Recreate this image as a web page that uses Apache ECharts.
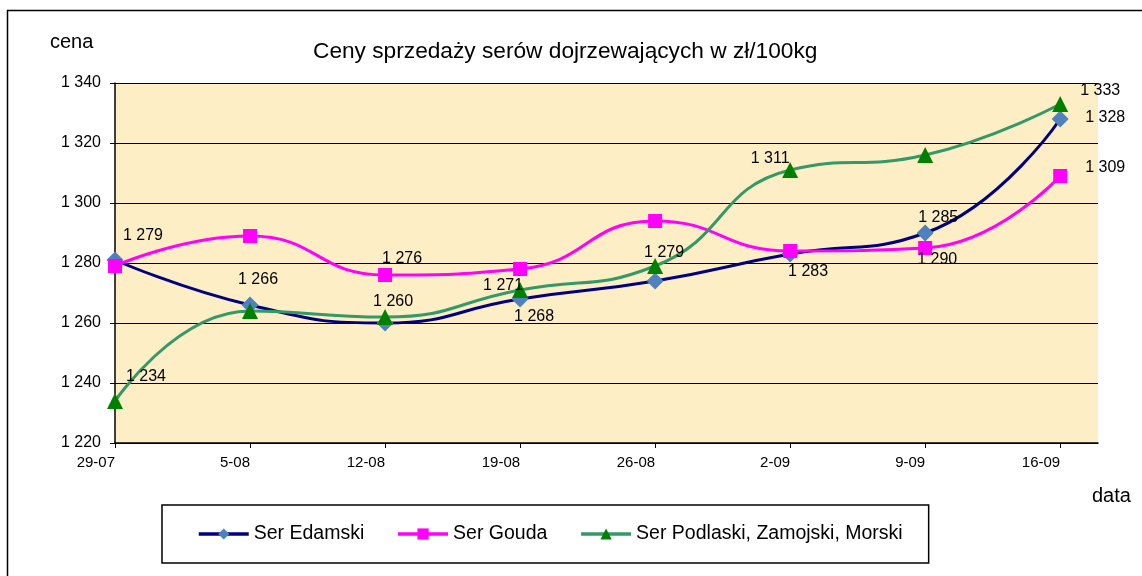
<!DOCTYPE html>
<html>
<head>
<meta charset="utf-8">
<title>Ceny sprzedaży serów dojrzewających</title>
<script src="https://cdn.jsdelivr.net/npm/echarts@6/dist/echarts.min.js"></script>
<style>
  html, body { margin: 0; padding: 0; background: #fff; }
  #chart { width: 1142px; height: 576px; }
</style>
</head>
<body>
<div id="chart"></div>
<script>
// daty notowań (tygodniowo)
var dates = ['29-07', '5-08', '12-08', '19-08', '26-08', '2-09', '9-09', '16-09'];

// ceny w zł/100kg
var edamski  = [1281, 1266, 1260, 1268, 1274, 1283, 1290, 1328];
var gouda    = [1279, 1289, 1276, 1278, 1294, 1284, 1285, 1309];
var podlaski = [1234, 1264, 1262, 1271, 1279, 1311, 1316, 1333];

// opisy danych tak jak na wykresie ('' = brak opisu)
var edamskiLabels  = ['', '1 266', '1 260', '1 268', '', '1 283', '1 285', '1 328'];
var goudaLabels    = ['1 279', '', '1 276', '', '', '', '1 290', '1 309'];
var podlaskiLabels = ['1 234', '', '', '1 271', '1 279', '1 311', '', '1 333'];

var seriesNames = ['Ser Edamski', 'Ser Gouda', 'Ser Podlaski, Zamojski, Morski'];

// przesunięcia opisów względem punktu (px)
var edamskiOffsets  = [null, [8, -25], [8, -21], [14, 18], null, [18, 18], [13, -15], [45, -1]];
var goudaOffsets    = [[28, -30], null, [17, -16], null, null, null, [12, 12], [45, -8]];
var podlaskiOffsets = [[31, -24], null, null, [-17, -4], [9, -13], [-20, -11], null, [40, -13]];

var FONT = '"Liberation Sans", Arial, sans-serif';

function fmt(v) {
  return String(v).replace(/\B(?=(\d{3})+(?!\d))/g, ' ');
}

function buildData(values, texts, offsets) {
  return values.map(function (v, i) {
    var item = { value: [i, v] };
    if (texts[i]) {
      item.label = { show: true, formatter: texts[i], offset: offsets[i] };
    }
    return item;
  });
}

var tickIdx = dates.map(function (d, i) { return i; });

var myChart = echarts.init(document.getElementById('chart'));

var option = {
  animation: false,
  backgroundColor: '#fff',
  title: {
    text: 'Ceny sprzedaży serów dojrzewających w zł/100kg',
    left: 313,
    top: 40,
    padding: 0,
    textStyle: { fontFamily: FONT, fontSize: 22.7, fontWeight: 'normal', color: '#000' }
  },
  graphic: [
    { type: 'rect', shape: { x: 7.5, y: 10.5, width: 1300, height: 700 },
      style: { fill: 'none', stroke: '#000', lineWidth: 1.5 }, silent: true },
    { type: 'text', left: 50, top: 32,
      style: { text: 'cena', font: '20px ' + FONT, fill: '#000' } },
    { type: 'text', left: 1092, top: 486,
      style: { text: 'data', font: '20px ' + FONT, fill: '#000' } }
  ],
  legend: {
    data: seriesNames,
    left: 162,
    top: 505,
    padding: [19, 26, 19, 35],
    itemGap: 32,
    itemWidth: 50,
    itemHeight: 14,
    borderColor: '#000',
    borderWidth: 1.5,
    lineStyle: { width: 3.5 },
    textStyle: { fontFamily: FONT, fontSize: 19.5, color: '#000' }
  },
  grid: {
    left: 115, right: 44, top: 83, bottom: 133,
    show: true, backgroundColor: '#FEEEC6', borderWidth: 0
  },
  xAxis: {
    type: 'value',
    min: 0,
    max: 7.28,
    interval: 1,
    axisLine: { lineStyle: { color: '#000', width: 1.5 } },
    axisTick: { show: true, length: 5, customValues: tickIdx, lineStyle: { color: '#000' } },
    axisLabel: {
      customValues: tickIdx,
      align: 'right',
      margin: 12,
      color: '#000',
      fontFamily: FONT,
      fontSize: 15,
      formatter: function (v) { return dates[v] || ''; }
    },
    splitLine: { show: false }
  },
  yAxis: {
    type: 'value',
    min: 1220,
    max: 1340,
    interval: 20,
    axisLine: { show: true, lineStyle: { color: '#000', width: 1.5 } },
    axisTick: { show: true, length: 5, lineStyle: { color: '#000' } },
    axisLabel: {
      margin: 14,
      color: '#000',
      fontFamily: FONT,
      fontSize: 16,
      formatter: fmt
    },
    splitLine: { show: true, lineStyle: { color: '#000', width: 1.2 } }
  },
  series: [
    {
      name: seriesNames[0],
      type: 'line',
      smooth: 0.5,
      symbol: 'diamond',
      symbolSize: 17,
      lineStyle: { color: '#000080', width: 3 },
      itemStyle: { color: '#4F81BD' },
      label: { show: false, position: 'inside', color: '#000', fontFamily: FONT, fontSize: 16 },
      emphasis: { disabled: true },
      data: buildData(edamski, edamskiLabels, edamskiOffsets)
    },
    {
      name: seriesNames[1],
      type: 'line',
      smooth: 0.5,
      symbol: 'rect',
      symbolSize: 14,
      lineStyle: { color: '#FF00FF', width: 3 },
      itemStyle: { color: '#FF00FF' },
      label: { show: false, position: 'inside', color: '#000', fontFamily: FONT, fontSize: 16 },
      emphasis: { disabled: true },
      data: buildData(gouda, goudaLabels, goudaOffsets)
    },
    {
      name: seriesNames[2],
      type: 'line',
      smooth: 0.5,
      symbol: 'triangle',
      symbolSize: 16,
      lineStyle: { color: '#339966', width: 3 },
      itemStyle: { color: '#008000' },
      label: { show: false, position: 'inside', color: '#000', fontFamily: FONT, fontSize: 16 },
      emphasis: { disabled: true },
      data: buildData(podlaski, podlaskiLabels, podlaskiOffsets)
    }
  ]
};

myChart.setOption(option);
</script>
</body>
</html>
